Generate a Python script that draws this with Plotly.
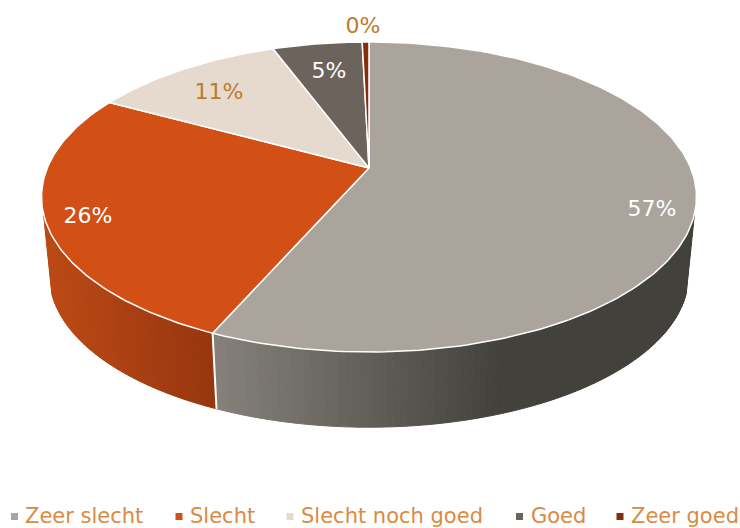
import math
import plotly.graph_objects as go

categories = ["Zeer slecht", "Slecht", "Slecht noch goed", "Goed", "Zeer goed"]
values = [56.6, 26.3, 11.4, 5.3, 0.4]
colors = ["#aaa49d", "#d24f16", "#e5dacd", "#6b635c", "#852e0c"]

label_colors = ["#ffffff", "#ffffff", "#bd7a30", "#ffffff", "#bd7a30"]
label_x = [652, 88, 219, 329, 363]
label_y = [210, 217, 93, 72, 27]
legend_mark_x = [14.5, 179, 290, 519.5, 620]
legend_text_x = [25, 190, 301, 531, 631]
LEG_Y = 516.5
LEG_TEXT_Y = 518
FONT = "DejaVu Sans"

# wall gradient: (x0, colour0, x1, colour1) for the slices with a visible wall
wall_grad = {0: (216, (0x85, 0x81, 0x7a), 500, (0x43, 0x41, 0x3c)),
             1: (50, (0xba, 0x49, 0x15), 217, (0x96, 0x35, 0x0e))}

# projection of the tilted disc
AX, AY = 369.0, 168.0
A, B, K = 321.7, 149.6, 0.187
S, D = 0.975, 79.8


def top(deg):
    t = math.radians(deg)
    X, Y = math.sin(t), math.cos(t)
    w = 1 + K * Y
    return AX + A * X / w, AY - B * Y / w


def bottom(deg):
    x, y = top(deg)
    return AX + S * (x - AX), AY + S * (y - AY) + D


def mix(c0, c1, f):
    f = max(0.0, min(1.0, f))
    return "rgb(%d,%d,%d)" % tuple(round(a + (b - a) * f) for a, b in zip(c0, c1))


total = sum(values)
edges = [0.0]
for v in values:
    edges.append(edges[-1] + v / total * 360)

fig = go.Figure()

# side walls
WALL_FROM, WALL_TO = 107.0, 253.0
for i, (x0, c0, x1, c1) in wall_grad.items():
    a, b = max(edges[i], WALL_FROM), min(edges[i + 1], WALL_TO)
    n = max(1, int(b - a))
    for j in range(n):
        d0, d1 = a + (b - a) * j / n, a + (b - a) * (j + 1) / n
        p = [top(d0), top(d1), bottom(d1), bottom(d0)]
        col = mix(c0, c1, ((p[0][0] + p[1][0]) / 2 - x0) / (x1 - x0))
        fig.add_trace(go.Scatter(
            x=[q[0] for q in p] + [p[0][0]], y=[q[1] for q in p] + [p[0][1]],
            mode="lines", fill="toself", fillcolor=col,
            line=dict(color=col, width=1), hoverinfo="skip", showlegend=False))

# white edge between the two visible walls
bx = [top(edges[1])[0], bottom(edges[1])[0]]
by = [top(edges[1])[1], bottom(edges[1])[1]]
fig.add_trace(go.Scatter(x=bx, y=by, mode="lines", line=dict(color="white", width=2),
                         hoverinfo="skip", showlegend=False))

# top faces
for i, name in enumerate(categories):
    a, b = edges[i], edges[i + 1]
    n = max(2, int((b - a) / 1.0))
    pts = [top(a + (b - a) * j / n) for j in range(n + 1)]
    xs = [AX] + [p[0] for p in pts] + [AX]
    ys = [AY] + [p[1] for p in pts] + [AY]
    fig.add_trace(go.Scatter(x=xs, y=ys, mode="lines", fill="toself", fillcolor=colors[i],
                             line=dict(color="white", width=1.5), name=name,
                             hoverinfo="name", showlegend=False))

# percentage labels
for i, v in enumerate(values):
    fig.add_trace(go.Scatter(x=[label_x[i]], y=[label_y[i]], mode="text",
                             text=[f"{round(v / total * 100)}%"],
                             textposition="middle center",
                             textfont=dict(family=FONT, size=22, color=label_colors[i]),
                             hoverinfo="skip", showlegend=False))

# legend row
for i, name in enumerate(categories):
    fig.add_trace(go.Scatter(x=[legend_mark_x[i]], y=[LEG_Y], mode="markers",
                             marker=dict(symbol="square", size=7, color=colors[i]),
                             hoverinfo="skip", showlegend=False))
    fig.add_trace(go.Scatter(x=[legend_text_x[i]], y=[LEG_TEXT_Y], mode="text", text=[name],
                             textposition="middle right",
                             textfont=dict(family=FONT, size=21, color="#da8a42"),
                             hoverinfo="skip", showlegend=False, cliponaxis=False))

fig.update_layout(
    width=740, height=528, margin=dict(l=0, r=0, t=0, b=0),
    paper_bgcolor="white", plot_bgcolor="white", showlegend=False,
    xaxis=dict(range=[0, 740], visible=False, fixedrange=True),
    yaxis=dict(range=[528, 0], visible=False, fixedrange=True),
)
fig.write_html("out.html", config={"displayModeBar": False},
               post_script="document.body.style.margin='0';document.documentElement.style.overflow='hidden';")
